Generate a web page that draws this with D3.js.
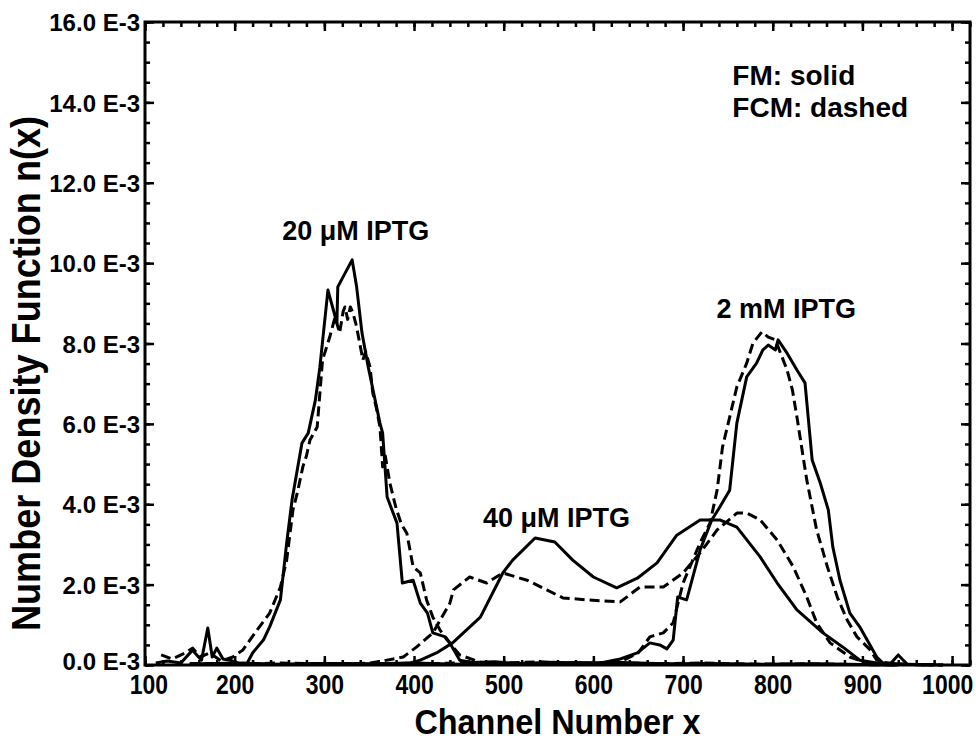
<!DOCTYPE html>
<html>
<head>
<meta charset="utf-8">
<script src="https://cdn.jsdelivr.net/npm/d3@7"></script>
<style>
  body { margin: 0; background: #fff; }
  text { font-family: "Liberation Sans", Arial, sans-serif; font-weight: bold; fill: #000; }
</style>
</head>
<body>
<div id="chart"></div>
<script>
// channel number x, n(x) in units of 1E-3
var fm20 = [[112,0.05],[125,0.1],[140,0.05],[153,0.37],[163,0.12],[170,0.92],[175,0.2],[180,0.42],[187,0.15],[195,0.12],[205,0.04],[214,0.05],[220,0.30],[232,0.62],[239,0.95],[251,1.62],[258,3.04],[264,4.11],[275,5.52],[282,5.77],[290,6.59],[295,7.41],[304,9.33],[314,8.51],[315,9.41],[331,10.08],[336,9.41],[342,8.26],[349,7.41],[362,6.02],[365,5.77],[370,4.18],[381,3.53],[387,2.04],[399,2.11],[407,1.54],[415,1.29],[421,0.80],[435,0.70],[440,0.55],[451,0.12],[465,0.06],[490,0.08],[520,0.03],[555,0.07],[590,0.04],[630,0.06],[680,0.03],[730,0.04],[790,0.02],[850,0.03],[900,0.01],[940,0.0]];
var fcm20 = [[118,0.25],[130,0.15],[145,0.3],[153,0.42],[162,0.2],[172,0.3],[185,0.1],[198,0.2],[209,0.37],[225,0.87],[239,1.29],[251,1.94],[258,2.61],[265,3.86],[270,4.3],[276,4.93],[280,5.2],[284,5.60],[292,5.92],[298,7.59],[306,8.16],[312,8.66],[317,8.26],[321,8.8],[323,8.91],[326,8.6],[329,8.91],[332,8.76],[336,8.41],[343,7.59],[346,7.8],[351,7.41],[354,6.77],[358,6.4],[362,5.92],[365,4.93],[368,5.2],[373,4.53],[380,3.9],[386,3.5],[392,3.28],[399,2.44],[407,2.29],[414,1.62],[421,1.19],[429,0.87],[437,0.62],[451,0.25],[474,0.07],[500,0.05],[540,0.08],[580,0.04],[620,0.06],[670,0.03],[720,0.05],[780,0.02],[840,0.03],[900,0.01],[940,0.0]];
var fm40 = [[150,0.02],[200,0.04],[250,0.01],[300,0.03],[350,0.02],[380,0.03],[396,0.05],[407,0.12],[425,0.3],[443,0.55],[474,1.19],[499,2.29],[510,2.61],[535,3.16],[557,3.06],[577,2.61],[600,2.19],[626,1.92],[649,2.16],[671,2.54],[693,3.23],[719,3.61],[741,3.61],[760,3.43],[786,2.69],[805,2.04],[827,1.37],[856,0.80],[878,0.45],[897,0.12],[916,0.05],[950,0.02],[990,0.0]];
var fcm40 = [[150,0.03],[200,0.02],[250,0.04],[300,0.02],[330,0.03],[351,0.05],[365,0.1],[388,0.2],[403,0.45],[421,0.80],[440,1.54],[444,1.87],[462,2.19],[481,2.04],[499,2.29],[526,2.11],[548,1.87],[566,1.67],[593,1.62],[630,1.57],[652,1.94],[678,1.94],[700,2.29],[719,2.79],[738,3.36],[760,3.78],[771,3.78],[786,3.61],[805,3.11],[823,2.44],[838,1.69],[849,1.05],[864,0.55],[886,0.20],[905,0.05],[940,0.02],[990,0.0]];
var fm2m = [[150,0.02],[200,0.05],[250,0.02],[300,0.04],[350,0.03],[400,0.05],[450,0.02],[500,0.04],[550,0.03],[580,0.06],[608,0.05],[630,0.15],[649,0.30],[663,0.55],[674,0.50],[682,0.40],[689,0.62],[694,1.69],[704,1.62],[719,2.86],[732,3.61],[741,3.93],[752,4.35],[760,6.02],[771,7.17],[782,7.51],[789,7.84],[795,7.96],[803,7.84],[806,8.09],[816,7.76],[827,7.34],[836,7.02],[844,5.10],[853,4.53],[862,3.86],[867,2.94],[875,2.11],[886,1.29],[897,0.95],[916,0.20],[923,0.05],[932,0.05],[940,0.25],[950,0.02],[980,0.0]];
var fcm2m = [[150,0.04],[200,0.02],[250,0.05],[300,0.03],[350,0.04],[400,0.02],[450,0.05],[500,0.03],[550,0.05],[600,0.04],[630,0.08],[650,0.3],[663,0.70],[678,0.80],[689,1.05],[700,2.04],[719,3.04],[730,3.53],[738,4.35],[744,5.42],[752,6.17],[760,6.92],[771,7.51],[778,8.01],[788,8.29],[795,8.16],[803,8.09],[816,7.34],[822,6.84],[827,6.17],[838,4.60],[849,3.36],[861,2.44],[872,1.69],[883,1.12],[894,0.70],[909,0.37],[916,0.12],[930,0.03],[970,0.0]];

var xTicks = [100, 200, 300, 400, 500, 600, 700, 800, 900, 1000];
var yTicks = [0, 2, 4, 6, 8, 10, 12, 14, 16];
var curveLabels = ["20 \u03bcM IPTG", "40 \u03bcM IPTG", "2 mM IPTG"];
var legendLines = ["FM: solid", "FCM: dashed"];

var margin = { top: 22, left: 145, right: 6, bottom: 78 };
var width = 976 - margin.left - margin.right;
var height = 743 - margin.top - margin.bottom;

var svg = d3.select("#chart")
    .append("svg")
    .attr("width", 976)
    .attr("height", 743)
    .append("g")
    .attr("transform", "translate(" + margin.left + "," + margin.top + ")");

var x = d3.scaleLinear().domain([100, 1020]).range([0, width]);
var y = d3.scaleLinear().domain([0, 16]).range([height, 0]);

var xMinor = d3.range(100, 1021, 20);
var yMinor = d3.range(0, 16.01, 0.5);

// ticks point inward on all four sides
function tickStyle(g) {
    g.select(".domain").remove();
    g.selectAll(".tick line").attr("stroke", "#000").attr("stroke-width", 2.5);
}

svg.append("g").attr("transform", "translate(0," + height + ")")
    .call(d3.axisBottom(x).tickValues(xMinor).tickSize(-5).tickFormat(""))
    .call(tickStyle);
svg.append("g").attr("transform", "translate(0," + height + ")")
    .call(d3.axisBottom(x).tickValues(xTicks).tickSize(-9).tickPadding(30).tickFormat(d3.format("d")))
    .call(tickStyle)
    .selectAll("text")
    .attr("dy", 0).attr("y", 29)
    .attr("x", function(d) { return d === 1000 ? -6 : (d === 100 ? 4 : 0); })
    .style("font-size", "28px")
    .attr("transform", "scale(0.82,1)");

svg.append("g")
    .call(d3.axisTop(x).tickValues(xMinor).tickSize(-5).tickFormat(""))
    .call(tickStyle);
svg.append("g")
    .call(d3.axisTop(x).tickValues(xTicks).tickSize(-9).tickFormat(""))
    .call(tickStyle);

svg.append("g")
    .call(d3.axisLeft(y).tickValues(yMinor).tickSize(-5).tickFormat(""))
    .call(tickStyle);
svg.append("g")
    .call(d3.axisLeft(y).tickValues(yTicks).tickSize(-9).tickPadding(8)
        .tickFormat(function(d) { return d3.format(".1f")(d) + " E-3"; }))
    .call(tickStyle)
    .selectAll("text")
    .attr("x", -5)
    .attr("dy", function(d) { return d === 0 ? "0.2em" : "0.36em"; })
    .style("font-size", "24px");

svg.append("g").attr("transform", "translate(" + width + ",0)")
    .call(d3.axisRight(y).tickValues(yMinor).tickSize(-5).tickFormat(""))
    .call(tickStyle);
svg.append("g").attr("transform", "translate(" + width + ",0)")
    .call(d3.axisRight(y).tickValues(yTicks).tickSize(-9).tickFormat(""))
    .call(tickStyle);

// frame
svg.append("rect")
    .attr("x", 0).attr("y", 0)
    .attr("width", width).attr("height", height)
    .attr("fill", "none").attr("stroke", "#000").attr("stroke-width", 3);

var line = d3.line()
    .x(function(d) { return x(d[0]); })
    .y(function(d) { return y(d[1]); });

var series = [
    { data: fm20, dash: null },
    { data: fcm20, dash: "10,5" },
    { data: fm40, dash: null },
    { data: fcm40, dash: "10,5" },
    { data: fm2m, dash: null },
    { data: fcm2m, dash: "10,5" }
];

svg.selectAll(".curve")
    .data(series)
    .enter()
    .append("path")
    .attr("class", "curve")
    .attr("d", function(d) { return line(d.data); })
    .attr("fill", "none")
    .attr("stroke", "#000")
    .attr("stroke-width", 3)
    .attr("stroke-linejoin", "round")
    .attr("stroke-dasharray", function(d) { return d.dash; });

// curve labels (channel, value)
var labelPos = [[335, 10.57], [559, 3.43], [815, 8.63]];
svg.selectAll(".clabel")
    .data(curveLabels)
    .enter()
    .append("text")
    .attr("class", "clabel")
    .attr("x", function(d, i) { return x(labelPos[i][0]); })
    .attr("y", function(d, i) { return y(labelPos[i][1]); })
    .attr("text-anchor", "middle")
    .style("font-size", "27px")
    .text(function(d) { return d; });

svg.selectAll(".legend")
    .data(legendLines)
    .enter()
    .append("text")
    .attr("class", "legend")
    .attr("x", x(755))
    .attr("y", function(d, i) { return y(14.43 - i * 0.8); })
    .style("font-size", "28px")
    .text(function(d) { return d; });

// axis titles
svg.append("text")
    .attr("transform", "translate(" + (width / 2) + "," + (height + 69) + ") scale(0.9,1)")
    .attr("text-anchor", "middle")
    .style("font-size", "36px")
    .text("Channel Number x");

svg.append("text")
    .attr("transform", "translate(" + (-105) + "," + (height / 2 + 30) + ") rotate(-90) scale(0.88,1)")
    .attr("text-anchor", "middle")
    .style("font-size", "41px")
    .text("Number Density Function n(x)");
</script>
</body>
</html>
